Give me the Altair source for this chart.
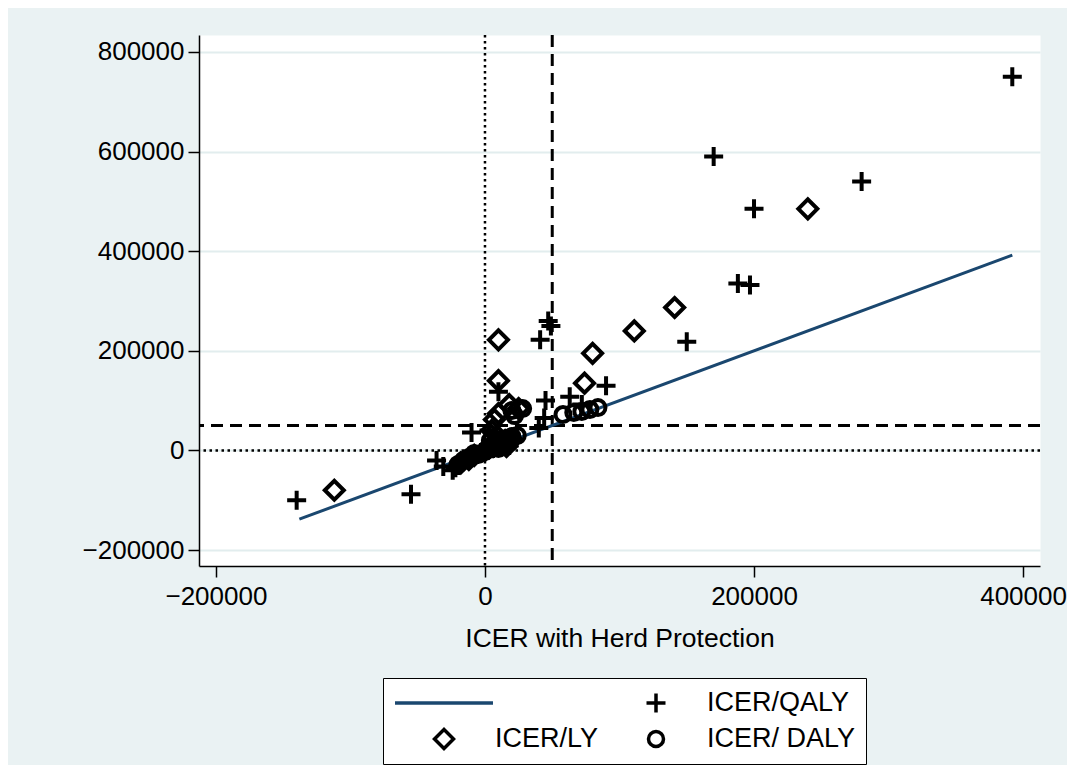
import altair as alt
import pandas as pd

# ---- data ----
qaly_x = [-140000, -55000, -36000, -31000, -24000, -18000, -20000, -12000, -10000, -8000,
          -3000, 2000, 5000, 8000, 12000, 3000, 10000, 41000, 47000, 49000,
          45000, 44000, 40000, 63000, 72000, 90000, 150000, 170000, 200000, 280000,
          188000, 197000, 392000,
          -22000, -15000, -6000, 0, 6000, 10000, 15000, 18000]
qaly_y = [-100000, -88000, -20000, -32000, -40000, -22000, -30000, -15000, 36000, -10000,
          -4000, 5000, 12000, 20000, 16000, 40000, 118000, 222000, 260000, 250000,
          100000, 65000, 45000, 108000, 92000, 130000, 218000, 590000, 485000, 540000,
          335000, 332000, 750000,
          -35000, -18000, -8000, 2000, 4000, 8000, 12000, 10000]

ly_x = [-112000, 10000, 10000, 80000, 74000, 111000, 141000, 240000, 18000, 25000,
        10000, 7000, 5000, -18000, -12000, 0, 6000, 15000, 20000,
        -8000, 3000, 12000, 16000]
ly_y = [-80000, 222000, 140000, 195000, 135000, 240000, 287000, 485000, 92000, 84000,
        74000, 62000, 40000, -25000, -18000, 0, 8000, 20000, 22000,
        -10000, 5000, 12000, 8000]

daly_x = [58000, 66000, 72000, 78000, 84000, 20000, 28000, 22000, 2000, 8000,
          12000, 16000, 20000, 4000, -5000, -12000, -20000, 14000, 24000,
          -16000, -8000, 0, 6000, 10000, 18000]
daly_y = [72000, 76000, 78000, 82000, 86000, 80000, 84000, 70000, 3000, 12000,
          18000, 24000, 28000, 20000, -8000, -14000, -28000, 10000, 30000,
          -20000, -6000, -2000, 6000, 4000, 16000]

fit_x = [-138000, 392000]
fit_y = [-138000, 392000]

dotted_x = [0]
dashed_x = [50000]
dotted_y = [0]
dashed_y = [50000]

series_names = ["fit", "ICER/QALY", "ICER/LY", "ICER/ DALY"]
x_ticks = [-200000, 0, 200000, 400000]
y_ticks = [-200000, 0, 200000, 400000, 600000, 800000]

# ---- tables ----
points = pd.concat([
    pd.DataFrame({"x": qaly_x, "y": qaly_y, "series": series_names[1]}),
    pd.DataFrame({"x": ly_x, "y": ly_y, "series": series_names[2]}),
    pd.DataFrame({"x": daly_x, "y": daly_y, "series": series_names[3]}),
], ignore_index=True)
fit = pd.DataFrame({"x": fit_x, "y": fit_y})

FONT = "Liberation Sans"
NAVY = "#1a476f"

xs = alt.Scale(domain=[-212600, 412600], nice=False, zero=False)
ys = alt.Scale(domain=[-232000, 834000], nice=False, zero=False)

x_axis = alt.Axis(values=x_ticks, format="d", grid=False, title="ICER with Herd Protection",
                  labelFlush=False, labelPadding=6, titlePadding=16)
y_axis = alt.Axis(values=y_ticks, format="d", grid=True, title=None, labelFlush=False,
                  labelPadding=4, gridColor="#E2EDEE", gridWidth=2)

def X(field):
    return alt.X(field, type="quantitative", scale=xs, axis=x_axis)

def Y(field):
    return alt.Y(field, type="quantitative", scale=ys, axis=y_axis)

rule_v_dot = alt.Chart(pd.DataFrame({"v": dotted_x})).mark_rule(
    color="black", strokeWidth=2.5, strokeDash=[2.5, 3.5]).encode(x=X("v"))
rule_v_dash = alt.Chart(pd.DataFrame({"v": dashed_x})).mark_rule(
    color="black", strokeWidth=3, strokeDash=[12, 7]).encode(x=X("v"))
rule_h_dot = alt.Chart(pd.DataFrame({"v": dotted_y})).mark_rule(
    color="black", strokeWidth=2.5, strokeDash=[2.5, 3.5]).encode(y=Y("v"))
rule_h_dash = alt.Chart(pd.DataFrame({"v": dashed_y})).mark_rule(
    color="black", strokeWidth=3, strokeDash=[12, 7]).encode(y=Y("v"))

line = alt.Chart(fit).mark_line(color=NAVY, strokeWidth=3).encode(x=X("x"), y=Y("y"))

PLUS = "M-1,0H1M0,-1V1"
legend = alt.Legend(
    title=None, orient="none", legendX=184, legendY=643, columns=2, direction="horizontal",
    fillColor="white", strokeColor="black", padding=10,
    labelFont=FONT, labelFontSize=27, labelColor="black", labelOffset=0,
    symbolStrokeWidth=3.5, clipHeight=30, rowPadding=6, columnPadding=6,
    labelExpr="datum.label == 'fit' ? '' : datum.label",
)
pts = alt.Chart(points).mark_point(filled=False, strokeWidth=4, opacity=1).encode(
    x=X("x"), y=Y("y"),
    shape=alt.Shape("series:N", scale=alt.Scale(domain=series_names,
                    range=["stroke", PLUS, "diamond", "circle"]), legend=legend),
    color=alt.Color("series:N", scale=alt.Scale(domain=series_names,
                    range=[NAVY, "black", "black", "black"]), legend=legend),
    size=alt.Size("series:N", scale=alt.Scale(type="ordinal", domain=series_names,
                  range=[9600, 361, 361, 225]), legend=legend),
)

chart = alt.layer(rule_v_dot, rule_v_dash, rule_h_dot, rule_h_dash, line, pts).properties(
    width=841, height=531,
    padding={"left": 74, "top": 25, "right": 0, "bottom": 0},
    background="#EAF2F3",
).configure_view(fill="white", stroke="transparent").configure_axis(
    labelFont=FONT, labelFontSize=26, labelColor="black",
    titleFont=FONT, titleFontSize=26.5, titleColor="black", titleFontWeight="normal",
    domainColor="black", domainWidth=1.5, tickColor="black", tickWidth=1.5, tickSize=11,
)

chart.save("out.html", embed_options={"renderer": "svg", "actions": False})
